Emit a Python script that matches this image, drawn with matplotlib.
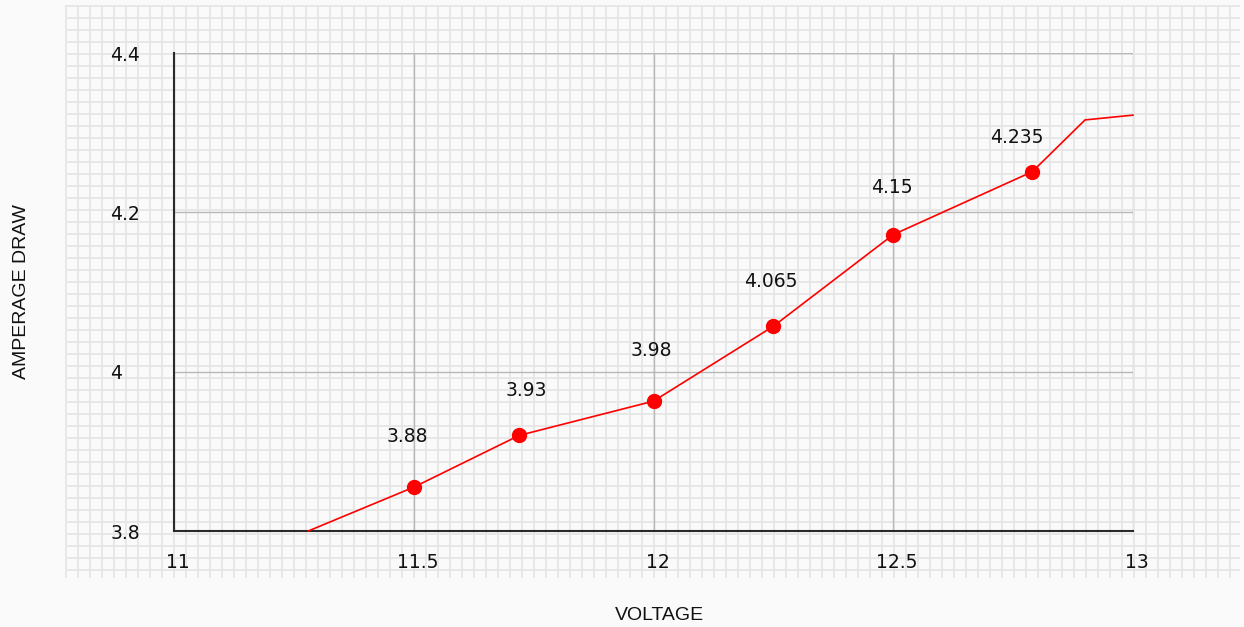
import numpy as np
import matplotlib
matplotlib.use("Agg")
import matplotlib.pyplot as plt
import matplotlib.transforms as mtransforms

# ---- data ----
line_x = [11.28, 11.5, 11.72, 12.0, 12.25, 12.5, 12.79, 12.9, 13.0]
line_y = [3.8, 3.855, 3.92, 3.963, 4.057, 4.172, 4.251, 4.316, 4.322]
point_x = [11.5, 11.72, 12.0, 12.25, 12.5, 12.79]
point_y = [3.855, 3.92, 3.963, 4.057, 4.172, 4.251]
point_labels = ["3.88", "3.93", "3.98", "4.065", "4.15", "4.235"]
x_ticks = [11, 11.5, 12, 12.5, 13]
x_tick_labels = ["11", "11.5", "12", "12.5", "13"]
y_ticks = [3.8, 4.0, 4.2, 4.4]
y_tick_labels = ["3.8", "4", "4.2", "4.4"]
x_title = "VOLTAGE"
y_title = "AMPERAGE DRAW"

# label offsets in pixels (dx, dy) relative to each marker
label_offsets = [(-6, 51), (7, 45), (-2, 51), (-3, 45), (-1, 47), (-15, 34)]

W, H = 1244, 627
BG = "#f9faf9"
fig = plt.figure(figsize=(W / 100, H / 100), dpi=100, facecolor=BG)

# background graph-paper grid (pixel coordinates)
gx0, gx1, gy0, gy1 = 65, 1240, 5, 578
bg = fig.add_axes([gx0 / W, 1 - gy1 / H, (gx1 - gx0) / W, (gy1 - gy0) / H], zorder=0)
bg.set_xlim(gx0, gx1)
bg.set_ylim(gy1, gy0)
bg.set_facecolor(BG)
for xv in np.arange(65.7, gx1 + 0.1, 12):
    bg.axvline(xv, color="#e6e6e6", lw=1.3)
for yv in np.arange(5.7, gy1 + 0.1, 12):
    bg.axhline(yv, color="#e6e6e6", lw=1.3)
bg.set_xticks([])
bg.set_yticks([])
for s in bg.spines.values():
    s.set_visible(False)

# main axes
L, R, T, B = 174, 1133, 53, 531
ax = fig.add_axes([L / W, 1 - B / H, (R - L) / W, (B - T) / H], zorder=1)
ax.patch.set_alpha(0)
ax.set_xlim(11, 13)
ax.set_ylim(3.8, 4.4)
ax.set_xticks(x_ticks)
ax.set_xticklabels(x_tick_labels)
ax.set_yticks(y_ticks)
ax.set_yticklabels(y_tick_labels)
ax.grid(True, color="#b8b8b8", lw=1.0, zorder=0)
ax.tick_params(axis="both", length=0, labelsize=13.5, colors="#111111")
ax.tick_params(axis="x", pad=16)
ax.tick_params(axis="y", pad=46)
for lab in ax.get_xticklabels() + ax.get_yticklabels():
    lab.set_fontfamily("DejaVu Sans")
for lab in ax.get_yticklabels():
    lab.set_horizontalalignment("left")
shift = mtransforms.ScaledTranslation(4 / 100, 0, fig.dpi_scale_trans)
for lab in ax.get_xticklabels():
    lab.set_transform(lab.get_transform() + shift)
ax.spines["top"].set_visible(False)
ax.spines["right"].set_visible(False)
ax.spines["left"].set_color("#2a2a2a")
ax.spines["bottom"].set_color("#2a2a2a")
ax.spines["left"].set_linewidth(1.5)
ax.spines["bottom"].set_linewidth(1.5)

ax.plot(line_x, line_y, color="#ff0000", lw=1.2, zorder=3, clip_on=False)
ax.plot(point_x, point_y, "o", color="#ff0000", ms=10, zorder=4)

for px, py, lab, (dx, dy) in zip(point_x, point_y, point_labels, label_offsets):
    ax.annotate(lab, (px, py), xytext=(dx, dy), textcoords="offset pixels",
                ha="center", va="center", fontsize=13.5, color="#111111",
                family="DejaVu Sans", zorder=5)

ax.set_xlabel(x_title, fontsize=14, family="Liberation Sans", color="#111111")
ax.set_ylabel(y_title, fontsize=14, family="Liberation Sans", color="#111111")
ax.xaxis.set_label_coords((659 - L) / (R - L), (B - 615) / (B - T))
ax.yaxis.set_label_coords((22 - L) / (R - L), (B - 292) / (B - T))
ax.xaxis.label.set_va("center")
ax.yaxis.label.set_va("center")

fig.savefig("out.png", dpi=100, facecolor=BG)
